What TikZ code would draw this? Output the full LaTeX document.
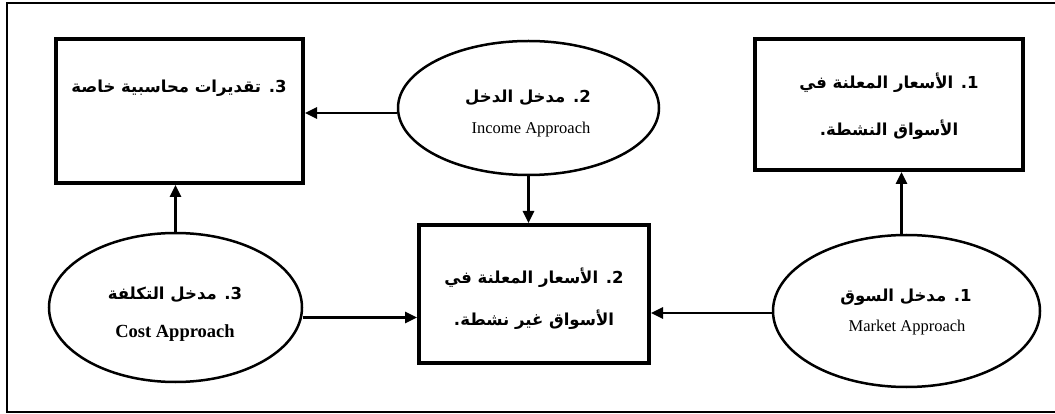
\documentclass[tikz,border=0pt]{standalone}
\usepackage{fontspec}
\setmainfont{Liberation Serif}
\newfontfamily\arabicfont[Script=Arabic]{DejaVu Sans}
\TeXXeTstate=1
\usetikzlibrary{arrows.meta,shapes.geometric}
\tikzset{
  box/.style={draw, rectangle, line width=4pt, inner sep=0pt},
  oval/.style={draw, ellipse, line width=2.5pt, inner sep=0pt},
  ar/.style={font=\arabicfont\bfseries\fontsize{16.5}{18}\selectfont, inner sep=0pt},
  en/.style={font=\fontsize{16.5}{18}\selectfont, inner sep=0pt},
  arr/.style={line width=2.7pt, -{Triangle[length=12pt,width=11pt]}},
  frame/.style={draw, line width=1.5pt}
}
\begin{document}
\begin{tikzpicture}[x=1pt,y=-1pt]
\useasboundingbox (0,0) rectangle (1055,414);
\draw[frame] (7,3) rectangle (1062,412);
% boxes
\node[box, minimum width=247pt, minimum height=144pt] (box3) at (179.5,111) {};
\node[box, minimum width=268pt, minimum height=131pt] (box1) at (889,104.5) {};
\node[box, minimum width=230pt, minimum height=138pt] (box2) at (534,294) {};
% ellipses
\node[oval, minimum width=261pt, minimum height=134pt] (income) at (528.5,108) {};
\node[oval, minimum width=253pt, minimum height=149pt] (cost) at (175.5,307.5) {};
\node[oval, minimum width=267pt, minimum height=152pt] (market) at (906.5,311) {};
% texts
\node[ar] (t3) at (179,88) {\beginR 3. تقديرات محاسبية خاصة\endR};
\node[ar] (t1a) at (889,83) {\beginR 1. الأسعار المعلنة في\endR};
\node[ar] (t1b) at (889,130) {\beginR الأسواق النشطة.\endR};
\node[ar] (t2a) at (534,278) {\beginR 2. الأسعار المعلنة في\endR};
\node[ar] (t2b) at (534,320) {\beginR الأسواق غير نشطة.\endR};
\node[ar] (ti) at (528,98) {\beginR 2. مدخل الدخل\endR};
\node[en] (tie) at (531,130) {Income Approach};
\node[ar] (tc) at (175,295) {\beginR 3. مدخل التكلفة\endR};
\node[en, font=\bfseries\fontsize{18.5}{20}\selectfont] (tce) at (175,333) {Cost Approach};
\node[ar] (tm) at (906,297) {\beginR 1. مدخل السوق\endR};
\node[en] (tme) at (907,328) {Market Approach};
% connector end points
\coordinate (iw) at ([yshift=-5pt]income.west);
\coordinate (ce) at ([yshift=-10pt]cost.east);
\coordinate (mw) at ([yshift=-2pt]market.west);
\coordinate (mn) at ([xshift=-5pt]market.north);
% connectors
\draw[arr] (iw) -- (box3.east |- iw);
\draw[arr] (income.south) -- (income.south |- box2.north);
\draw[arr] (cost.north) -- (cost.north |- box3.south);
\draw[arr] (ce) -- (box2.west |- ce);
\draw[arr] (mw) -- (box2.east |- mw);
\draw[arr] (mn) -- (mn |- box1.south);
\end{tikzpicture}
\end{document}
